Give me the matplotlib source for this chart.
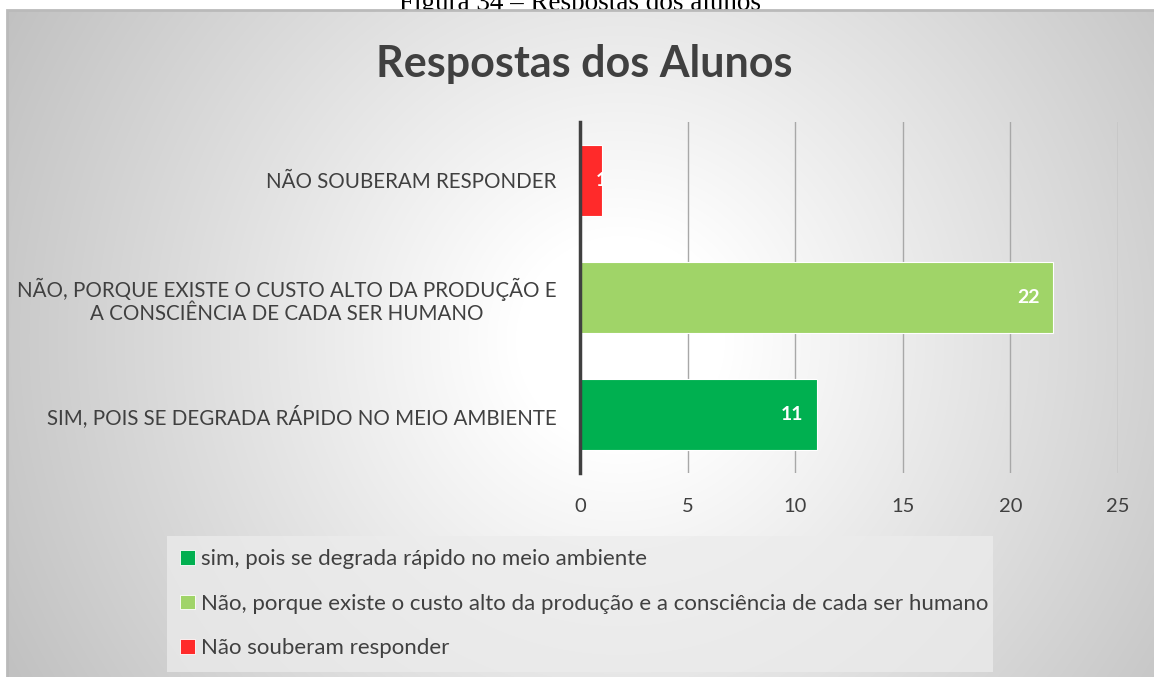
import numpy as np
import matplotlib
matplotlib.use("Agg")
import matplotlib.pyplot as plt
from matplotlib.patches import Rectangle, Patch

# data (bottom to top, as drawn)
categories = [
    "SIM, POIS SE DEGRADA RÁPIDO NO MEIO AMBIENTE",
    "NÃO, PORQUE EXISTE O CUSTO ALTO DA PRODUÇÃO E\nA CONSCIÊNCIA DE CADA SER HUMANO",
    "NÃO SOUBERAM RESPONDER",
]
legend_labels = [
    "sim, pois se degrada rápido no meio ambiente",
    "Não, porque existe o custo alto da produção e a consciência de cada ser humano",
    "Não souberam responder",
]
values = [11, 22, 1]
colors = ["#00b050", "#a0d468", "#ff2a2a"]
xticks = [0, 5, 10, 15, 20, 25]

W, H = 1154, 677
plt.rcParams["font.family"] = ["Lato", "DejaVu Sans"]
text_col = "#404040"

fig = plt.figure(figsize=(W / 100, H / 100), dpi=100)

# caption above the chart frame (mostly cut off at the top)
fig.text(0.503, 1 - 10 / H, "Figura 34 – Respostas dos alunos", ha="center",
         va="baseline", fontsize=19.5, family="Liberation Serif", color="black",
         zorder=-5)

# radial gradient background
bg = fig.add_axes([7 / W, 0, 1 - 7 / W, 1 - 10 / H], zorder=-2)
yy, xx = np.mgrid[10:H, 7:W]
r = np.hypot(xx - 620, yy - 340) / 696.0
shade = 255 - 62 * np.clip((r - 0.15) / 0.85, 0, 1)
img = np.dstack([shade, shade, shade]) / 255.0
bg.imshow(img, aspect="auto", extent=[0, 1, 0, 1], origin="upper")
bg.set_axis_off()
fig.patches.append(Rectangle((7 / W, -0.01), 1, 1 - 10 / H + 0.01,
                             transform=fig.transFigure, fill=False,
                             edgecolor="#bababa", linewidth=2, zorder=-1))

fig.text(584 / W, 1 - 64 / H, "Respostas dos Alunos", ha="center", va="center",
         fontsize=31, fontweight="bold", color=text_col)

ax = fig.add_axes([580 / W, 1 - 473 / H, (1118 - 580) / W, (473 - 122) / H])
ax.patch.set_alpha(0)
y = np.arange(len(values))
bars = ax.barh(y, values, height=0.6, color=colors, edgecolor="#ffffff",
               linewidth=0.8, zorder=3)

for bar, v in zip(bars, values):
    yc = bar.get_y() + bar.get_height() / 2
    if v >= 3:
        t = ax.annotate(str(v), (v, yc), xytext=(-10, 0), textcoords="offset points",
                        ha="right", va="center", color="white", fontweight="bold",
                        fontsize=14, zorder=4)
    else:
        t = ax.annotate(str(v), (v, yc), xytext=(0, 0), textcoords="offset points",
                        ha="center", va="center", color="white", fontweight="bold",
                        fontsize=14, zorder=4)
    t.set_clip_path(bar)

ax.set_xlim(0, 25)
ax.set_ylim(-0.5, len(values) - 0.5)
ax.set_xticks(xticks)
ax.set_yticks(y)
ax.set_yticklabels(categories, multialignment="center")
ax.tick_params(axis="x", length=0, pad=18, labelsize=14.5, labelcolor=text_col)
ax.tick_params(axis="y", length=0, pad=17, labelsize=14.8, labelcolor=text_col)
ax.grid(axis="x", color="#a8a8a8", linewidth=1, zorder=0)
for s in ["top", "right", "bottom"]:
    ax.spines[s].set_visible(False)
ax.spines["left"].set_color(text_col)
ax.spines["left"].set_linewidth(2.5)
ax.spines["left"].set_zorder(5)

handles = [Patch(facecolor=c, edgecolor="#ffffff", linewidth=0.6) for c in colors]
leg = fig.legend(handles, legend_labels, loc="upper left",
                 bbox_to_anchor=(167 / W, 1 - 668 / H, (993 - 167) / W, (668 - 536) / H),
                 mode="expand", frameon=True, fancybox=False, fontsize=16,
                 handlelength=0.65, handleheight=0.65, handletextpad=0.3,
                 labelspacing=1.1, borderaxespad=0, borderpad=0.6)
leg.get_frame().set_facecolor("#ececec")
leg.get_frame().set_alpha(0.75)
leg.get_frame().set_edgecolor("none")
for t in leg.get_texts():
    t.set_color(text_col)

fig.savefig("out.png", dpi=100)
